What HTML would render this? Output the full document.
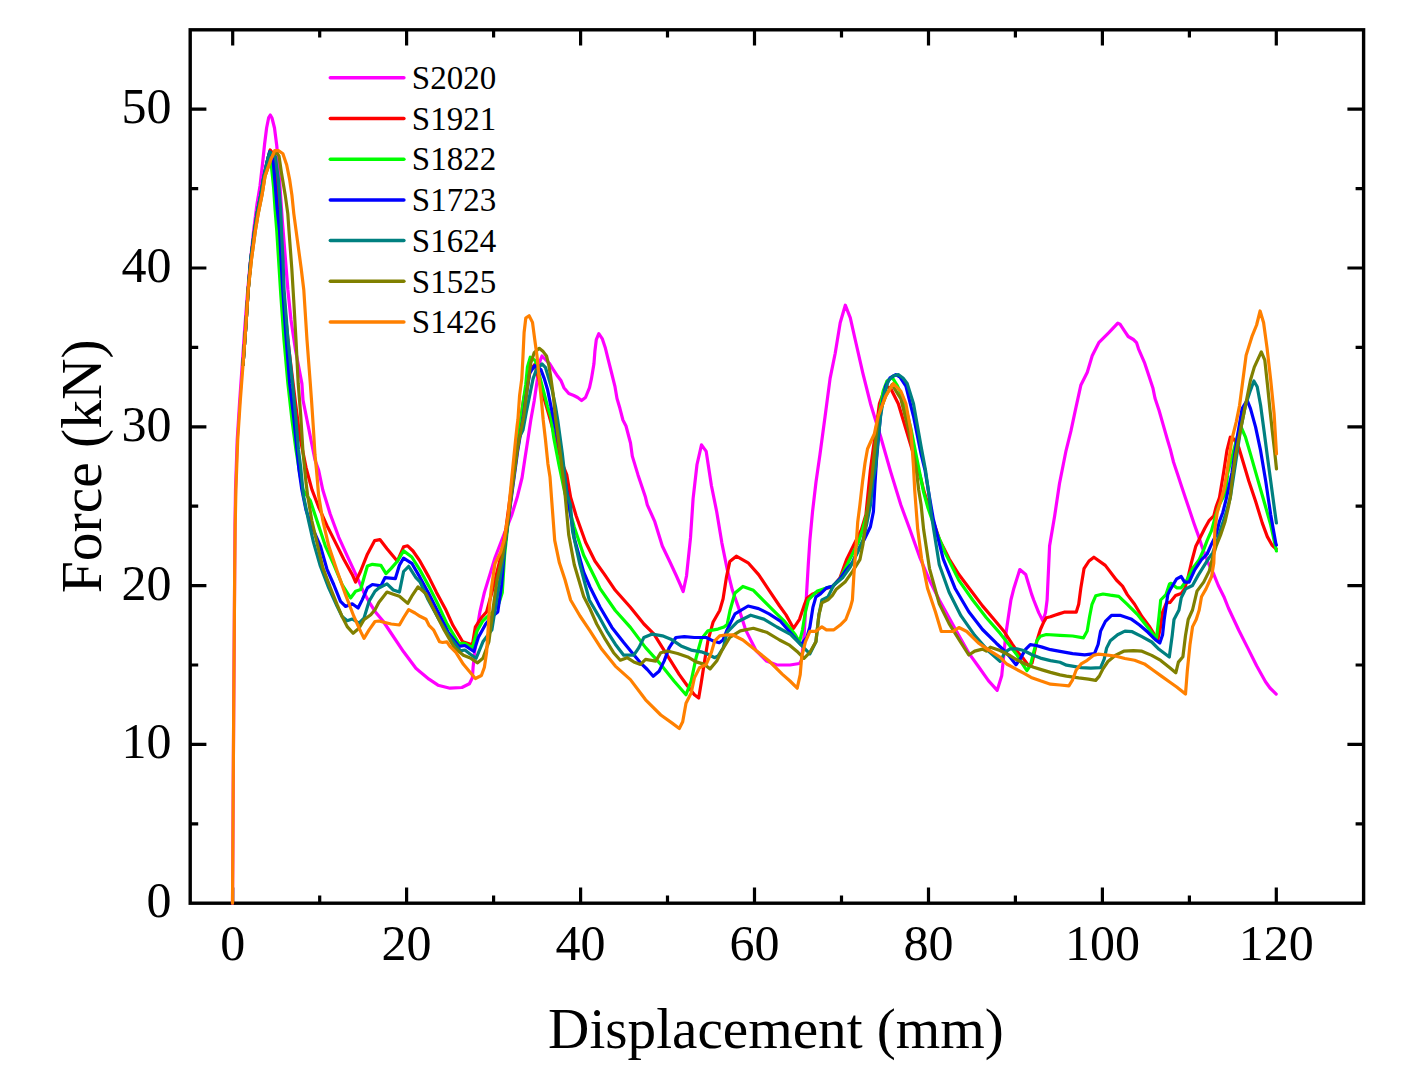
<!DOCTYPE html>
<html><head><meta charset="utf-8"><style>
html,body{margin:0;padding:0;background:#fff;}
svg{display:block;}
</style></head><body>
<svg width="1412" height="1069" viewBox="0 0 1412 1069">
<rect width="1412" height="1069" fill="#fff"/>
<rect x="190.2" y="29.8" width="1173.4" height="873.4" fill="none" stroke="#000" stroke-width="3.4"/>
<path d="M232.7 903.2V887.4M232.7 29.8V45.6M319.7 903.2V895.4M319.7 29.8V37.6M406.6 903.2V887.4M406.6 29.8V45.6M493.6 903.2V895.4M493.6 29.8V37.6M580.6 903.2V887.4M580.6 29.8V45.6M667.5 903.2V895.4M667.5 29.8V37.6M754.5 903.2V887.4M754.5 29.8V45.6M841.5 903.2V895.4M841.5 29.8V37.6M928.5 903.2V887.4M928.5 29.8V45.6M1015.4 903.2V895.4M1015.4 29.8V37.6M1102.4 903.2V887.4M1102.4 29.8V45.6M1189.4 903.2V895.4M1189.4 29.8V37.6M1276.3 903.2V887.4M1276.3 29.8V45.6M190.2 823.8H198.2M1363.6 823.8H1355.6M190.2 744.4H206.4M1363.6 744.4H1347.4M190.2 665.0H198.2M1363.6 665.0H1355.6M190.2 585.6H206.4M1363.6 585.6H1347.4M190.2 506.2H198.2M1363.6 506.2H1355.6M190.2 426.8H206.4M1363.6 426.8H1347.4M190.2 347.4H198.2M1363.6 347.4H1355.6M190.2 268.0H206.4M1363.6 268.0H1347.4M190.2 188.6H198.2M1363.6 188.6H1355.6M190.2 109.2H206.4M1363.6 109.2H1347.4" stroke="#000" stroke-width="3.2" fill="none"/>
<g font-family="&quot;Liberation Serif&quot;, serif" font-size="50" fill="#000"><text x="232.7" y="960" text-anchor="middle">0</text><text x="406.6" y="960" text-anchor="middle">20</text><text x="580.6" y="960" text-anchor="middle">40</text><text x="754.5" y="960" text-anchor="middle">60</text><text x="928.5" y="960" text-anchor="middle">80</text><text x="1102.4" y="960" text-anchor="middle">100</text><text x="1276.3" y="960" text-anchor="middle">120</text><text x="171.6" y="917.2" text-anchor="end">0</text><text x="171.6" y="758.4" text-anchor="end">10</text><text x="171.6" y="599.6" text-anchor="end">20</text><text x="171.6" y="440.8" text-anchor="end">30</text><text x="171.6" y="282.0" text-anchor="end">40</text><text x="171.6" y="123.2" text-anchor="end">50</text></g>
<polyline points="232.5,903.2 232.8,860.0 233.2,790.0 233.7,710.0 234.2,640.0 234.7,570.0 235.0,525.0 235.5,490.0 237.2,440.0 239.6,402.0 242.2,365.0 244.8,327.0 247.3,295.0 249.7,268.5 253.6,231.0 257.0,204.0 260.0,186.0 262.4,165.0 264.6,144.0 266.6,128.0 268.7,117.5 270.3,115.0 272.0,118.0 274.5,128.0 276.8,146.0 279.5,180.0 282.4,221.7 285.5,260.0 287.9,290.0 291.0,320.0 295.5,350.0 301.9,383.5 303.0,400.0 309.0,430.0 315.0,460.0 318.6,470.0 322.8,490.0 330.2,514.0 338.8,537.3 347.2,555.9 357.3,577.7 364.0,592.9 370.8,604.7 375.0,611.4 383.0,621.0 393.0,636.0 403.6,651.8 415.9,668.3 420.0,671.7 429.0,679.2 438.0,685.2 450.0,688.2 461.9,687.5 469.4,683.7 472.4,677.7 473.1,667.2 474.6,652.3 476.9,629.8 479.9,611.9 484.4,592.4 490.4,572.9 494.9,558.0 504.3,533.6 511.8,514.9 517.5,496.2 522.1,477.5 524.9,458.7 527.8,440.0 530.8,420.0 534.2,401.0 537.5,378.6 539.8,361.7 542.0,356.0 545.4,359.5 549.9,364.0 553.3,369.6 557.7,376.3 561.1,380.8 563.9,387.7 568.8,393.6 573.8,395.5 577.7,397.5 581.6,400.5 585.5,397.5 589.5,387.7 591.4,378.9 593.9,364.1 594.9,351.3 596.3,339.6 598.8,333.7 602.2,338.6 605.2,347.4 608.1,359.2 611.1,371.0 615.0,386.7 617.0,398.5 619.9,408.3 622.9,420.0 626.0,426.0 630.5,443.0 632.3,456.1 638.0,474.9 645.5,497.3 647.3,504.8 654.8,521.7 662.3,546.0 669.5,561.0 676.0,575.0 680.0,584.0 683.2,591.5 686.5,576.0 690.5,537.9 693.1,498.6 697.0,464.5 701.5,444.9 706.2,451.4 711.4,485.5 716.7,511.7 721.9,543.1 727.2,569.3 732.4,590.3 738.9,608.6 745.5,629.6 756.0,650.5 766.5,661.0 776.9,665.0 790.0,665.0 799.5,663.5 801.5,660.0 804.0,637.3 806.2,599.9 808.4,562.5 809.9,540.0 812.5,512.0 816.0,482.0 820.0,454.2 825.1,416.3 830.1,378.4 835.2,353.2 840.2,322.8 845.3,305.2 850.3,317.8 855.4,340.5 862.9,373.4 870.5,403.7 880.6,436.5 890.7,471.9 900.8,504.8 909.8,529.3 919.6,556.8 929.5,580.4 939.3,600.0 949.1,617.7 958.9,635.4 968.8,653.1 978.6,666.8 988.4,680.6 997.2,690.4 1001.7,675.8 1003.4,658.9 1005.9,633.7 1008.4,616.8 1010.9,600.0 1013.9,588.2 1019.8,569.6 1025.7,574.5 1031.6,594.1 1033.7,600.0 1038.7,612.6 1042.9,621.0 1045.5,612.6 1047.1,600.0 1049.6,545.8 1054.6,516.3 1059.5,483.5 1066.0,450.8 1070.9,431.2 1075.8,408.2 1080.8,385.3 1087.3,372.2 1092.2,355.8 1098.8,342.7 1108.6,332.9 1117.8,323.1 1120.0,324.1 1124.1,330.3 1128.2,336.5 1133.4,339.5 1136.5,342.6 1138.5,348.8 1144.7,363.2 1148.8,375.6 1152.9,387.9 1155.0,398.2 1159.1,410.5 1163.2,424.9 1167.3,439.3 1170.4,449.6 1173.5,462.0 1177.6,474.3 1181.7,486.7 1185.8,499.0 1190.0,511.4 1194.1,523.7 1198.1,534.9 1202.6,548.4 1208.2,563.0 1213.8,574.3 1218.3,585.5 1223.9,596.7 1228.4,608.0 1238.8,630.2 1247.7,647.9 1256.6,665.7 1265.5,681.7 1270.0,688.0 1276.2,694.1" fill="none" stroke="#ff00ff" stroke-width="3.2" stroke-linejoin="round" stroke-linecap="round"/><polyline points="243.0,365.0 245.8,327.0 248.2,290.0 250.8,259.0 254.5,231.0 257.3,212.0 260.8,194.9 263.6,178.0 266.6,164.0 268.6,156.0 270.2,150.0 272.5,153.0 274.5,165.0 276.5,187.0 278.3,210.0 280.6,253.6 282.5,280.0 285.0,310.0 289.0,350.0 295.4,402.3 300.0,437.4 306.0,467.4 312.0,489.8 318.6,507.0 327.0,525.6 335.4,542.4 343.8,559.2 352.2,574.4 355.6,582.0 360.7,571.0 367.4,554.2 374.7,540.6 379.9,539.6 387.0,548.8 392.2,555.0 397.4,561.2 403.6,546.8 407.7,545.8 413.0,551.0 420.0,561.2 429.0,577.4 436.5,592.4 445.4,608.9 452.9,625.3 462.7,641.8 472.4,644.8 475.4,626.8 481.4,617.8 486.6,611.9 492.0,592.0 497.0,572.0 502.0,552.0 506.0,528.0 510.0,498.0 515.0,460.0 519.5,428.0 523.5,400.0 527.0,384.0 530.5,370.0 534.7,364.5 538.7,378.6 543.2,395.4 548.8,414.5 552.0,426.0 557.0,445.0 562.3,463.7 566.8,474.9 570.6,497.3 576.2,516.0 585.6,542.2 594.9,561.0 604.3,574.1 615.3,590.3 630.4,607.2 643.9,624.0 654.0,634.1 662.4,647.6 670.9,661.1 679.3,674.6 687.7,686.3 694.4,694.8 698.7,698.1 701.2,683.0 704.6,661.1 707.9,640.9 713.0,622.3 719.7,610.5 723.1,598.7 726.5,576.8 729.8,561.5 736.3,556.2 748.1,562.8 758.6,574.6 769.1,590.3 779.6,606.0 786.0,614.9 793.5,628.3 799.5,619.3 804.0,605.9 806.9,598.4 812.9,593.9 818.9,591.5 826.0,588.5 833.0,586.5 839.9,578.0 846.5,559.7 853.9,544.7 861.4,529.7 865.9,514.8 870.4,469.9 873.4,447.5 876.0,430.0 879.4,403.7 885.7,386.0 890.7,388.5 898.3,403.7 905.9,429.0 913.5,454.2 921.1,479.5 923.6,490.0 931.4,515.5 939.3,539.1 949.1,558.8 958.9,574.5 970.7,590.2 982.5,605.9 994.3,619.7 1004.1,631.5 1012.6,644.6 1018.5,653.0 1023.6,658.9 1028.6,665.7 1032.0,663.1 1034.5,652.2 1037.0,640.4 1040.4,629.5 1043.8,621.9 1046.3,617.7 1050.5,616.8 1054.7,615.2 1058.9,613.9 1064.1,612.2 1076.2,612.2 1078.7,604.3 1080.8,588.3 1084.0,568.7 1089.0,561.0 1093.9,557.2 1105.3,565.4 1116.4,580.0 1122.5,586.1 1127.3,594.6 1134.6,604.3 1141.9,616.5 1149.2,626.2 1157.7,640.0 1160.2,628.7 1162.6,612.0 1166.3,603.0 1170.0,602.4 1175.6,595.6 1181.2,593.4 1184.6,588.9 1188.0,577.6 1191.3,563.0 1195.8,546.2 1200.3,537.2 1204.8,528.2 1209.3,520.3 1213.8,515.8 1216.1,506.9 1219.4,497.9 1223.6,472.6 1226.9,450.7 1230.3,437.2 1233.7,438.9 1238.7,447.3 1243.8,464.2 1248.8,481.0 1255.6,501.2 1262.3,523.1 1267.3,536.6 1272.0,545.0 1276.2,549.0" fill="none" stroke="#ff0000" stroke-width="3.2" stroke-linejoin="round" stroke-linecap="round"/><polyline points="243.0,365.0 245.8,327.0 248.2,290.0 250.8,259.0 254.5,231.0 257.3,212.0 260.8,194.9 263.6,178.0 266.6,164.0 268.6,156.0 270.3,153.0 271.3,164.9 273.6,187.4 275.1,209.9 276.8,231.0 278.6,260.0 280.8,295.0 284.0,340.0 287.9,383.5 292.0,420.0 296.0,450.0 300.0,475.0 303.0,490.0 310.2,500.3 316.9,520.5 325.3,545.8 333.7,564.3 342.1,584.5 350.6,598.0 355.6,591.2 360.7,589.5 364.0,577.7 367.4,566.0 372.4,564.3 380.9,565.3 386.0,573.6 391.2,568.4 397.4,561.2 403.6,550.9 411.8,557.0 420.0,570.0 429.0,586.4 438.0,604.4 447.0,623.8 458.9,643.3 464.9,643.3 472.4,647.8 476.9,631.3 482.9,620.8 487.0,617.0 493.0,612.0 499.0,603.0 502.3,592.4 504.6,555.0 510.0,505.0 515.0,462.0 520.0,425.0 523.5,400.0 525.8,384.2 527.4,367.3 530.3,357.2 535.3,360.6 538.7,373.0 543.2,389.8 547.6,406.6 551.0,417.8 553.7,437.4 559.0,465.0 565.0,493.6 574.3,527.3 583.7,555.3 594.9,577.8 600.1,588.6 615.3,610.5 630.4,627.4 645.6,647.6 660.8,664.4 674.2,681.3 686.0,694.8 691.1,681.3 696.1,657.7 701.2,639.2 707.9,630.8 718.0,629.1 724.0,627.0 727.2,624.4 730.0,610.5 735.0,592.9 742.9,586.4 753.4,590.3 763.8,600.8 774.3,611.3 784.8,621.7 789.0,626.8 795.3,634.8 799.5,641.8 802.5,629.8 805.4,611.9 808.4,599.9 812.9,595.4 817.4,590.9 826.4,587.9 832.4,586.4 839.9,578.9 846.0,567.0 853.0,553.0 858.5,542.0 862.5,530.0 866.5,515.0 870.5,495.0 873.5,470.0 876.8,441.6 880.0,410.0 883.2,391.1 887.0,381.0 892.0,377.2 897.0,385.0 903.4,398.6 911.0,429.0 916.0,454.2 923.6,492.1 928.0,508.0 935.4,529.3 945.2,552.9 958.9,580.4 972.7,600.0 986.4,617.7 1000.2,633.4 1010.9,647.1 1016.8,654.7 1021.9,663.1 1026.9,670.7 1030.3,665.7 1033.7,652.2 1037.0,640.4 1040.4,636.2 1046.3,634.5 1060.0,635.4 1072.6,636.0 1083.5,637.8 1087.2,631.1 1089.6,616.5 1092.0,604.3 1095.7,595.8 1103.0,594.0 1110.3,595.2 1118.8,596.4 1127.3,604.3 1137.1,614.1 1146.8,626.2 1156.5,638.4 1159.0,616.5 1160.7,600.0 1166.0,594.6 1169.5,584.0 1171.1,583.3 1176.7,587.8 1181.2,587.8 1186.9,579.9 1192.5,568.7 1199.2,559.7 1203.7,549.6 1207.1,540.6 1211.6,530.4 1214.9,518.1 1219.4,504.6 1225.1,493.4 1227.5,476.0 1226.9,476.0 1233.7,450.7 1240.4,425.5 1245.5,437.2 1250.5,454.1 1257.2,477.6 1264.0,501.2 1270.7,524.8 1276.4,551.0" fill="none" stroke="#00ff00" stroke-width="3.2" stroke-linejoin="round" stroke-linecap="round"/><polyline points="243.0,365.0 245.8,327.0 248.2,290.0 250.8,259.0 254.5,231.0 257.3,212.0 260.8,194.9 263.6,178.0 266.6,164.0 268.6,156.0 269.5,152.0 271.5,155.5 273.2,161.2 275.4,187.4 277.3,209.9 279.6,231.0 281.5,268.5 282.8,290.0 285.5,330.0 289.7,383.5 294.0,420.0 299.0,470.0 301.9,490.0 306.0,510.0 311.0,525.0 315.5,535.0 320.3,545.8 327.0,569.3 333.7,584.5 340.5,601.3 345.5,606.4 352.2,603.8 358.1,608.0 362.3,599.6 367.4,587.8 372.4,584.5 380.9,585.9 385.0,577.7 395.3,578.7 399.4,565.3 403.6,558.1 411.8,563.3 420.0,577.4 429.0,593.9 438.0,611.9 448.4,632.8 458.9,646.3 464.9,645.5 473.9,651.5 478.4,637.3 485.9,623.8 491.5,617.0 497.8,611.9 501.6,584.9 504.6,547.5 511.0,500.0 517.5,452.0 522.8,420.0 525.8,398.8 528.0,384.2 529.7,373.0 534.7,365.7 540.9,369.6 544.3,378.6 547.6,389.8 551.0,406.6 556.0,430.0 561.2,456.1 568.7,502.9 574.3,538.5 583.7,572.2 590.0,587.0 600.1,607.2 611.9,627.4 623.7,642.5 632.1,652.7 640.5,662.8 647.3,669.5 653.2,676.2 659.1,671.2 664.1,661.1 669.2,647.6 675.9,637.5 684.3,636.7 694.4,637.5 706.2,637.5 713.0,640.9 719.3,642.7 723.0,640.0 727.2,629.6 735.0,613.9 748.1,606.0 758.6,608.6 769.1,613.9 780.0,620.8 790.5,632.8 801.0,644.8 806.9,637.3 809.9,626.8 812.9,607.4 815.9,596.9 820.4,593.9 826.4,587.9 832.4,586.4 839.9,578.9 845.0,571.6 852.4,562.6 858.0,550.0 864.0,540.0 870.4,526.7 873.4,511.8 874.9,484.9 876.5,460.0 878.1,441.6 881.0,410.0 885.7,386.0 890.0,378.0 895.8,374.6 900.0,377.0 905.9,386.0 913.5,416.3 921.1,454.2 925.0,470.0 928.6,492.1 933.4,519.5 943.2,558.8 955.0,588.2 968.8,611.8 982.5,629.5 996.3,643.2 1004.2,650.5 1010.1,657.2 1016.0,664.8 1020.2,658.9 1025.3,649.7 1030.3,644.6 1036.2,645.5 1042.1,647.1 1050.5,649.7 1060.0,651.3 1072.6,653.6 1084.7,654.8 1094.5,653.6 1098.1,644.5 1100.6,631.1 1105.4,621.4 1111.5,615.3 1120.0,615.3 1131.0,618.9 1139.5,625.0 1148.0,632.3 1155.3,639.6 1159.8,643.0 1162.6,634.7 1164.2,619.5 1167.8,594.6 1170.0,590.0 1176.7,578.8 1181.2,576.5 1184.6,582.1 1189.1,582.1 1194.7,569.8 1201.5,559.7 1207.1,554.0 1211.6,543.9 1216.1,534.9 1219.4,521.5 1222.8,512.5 1226.2,499.0 1232.0,472.6 1237.0,438.9 1242.1,408.6 1247.1,400.2 1250.5,408.6 1255.6,427.1 1260.6,450.7 1265.7,481.0 1270.7,514.7 1275.8,543.3 1276.4,545.0" fill="none" stroke="#0000ff" stroke-width="3.2" stroke-linejoin="round" stroke-linecap="round"/><polyline points="243.0,365.0 245.8,327.0 248.2,290.0 250.8,259.0 254.5,231.0 257.3,212.0 260.8,194.9 263.6,178.0 266.6,164.0 268.6,156.0 270.0,152.0 273.0,154.5 275.4,156.7 278.4,180.0 280.7,209.9 281.5,231.0 283.0,260.0 284.1,290.0 288.0,340.0 292.5,383.5 296.0,420.0 298.5,450.0 300.7,467.4 303.4,495.3 308.5,520.5 313.5,542.4 320.3,566.0 328.7,587.8 337.1,606.4 342.1,616.5 347.2,620.7 352.2,619.0 359.0,623.2 364.0,618.1 369.1,601.3 375.0,591.2 378.8,588.0 387.0,583.9 393.3,590.0 399.4,592.1 403.6,571.5 408.7,566.3 415.9,577.7 420.0,581.9 427.5,598.4 438.0,617.8 449.9,637.3 460.4,650.8 464.9,650.0 470.0,654.0 476.1,658.3 482.9,641.8 491.9,629.8 497.8,592.4 503.8,555.0 508.0,520.0 513.0,480.0 518.0,440.0 523.0,430.0 526.3,412.2 529.7,395.4 533.1,378.6 536.4,369.6 542.0,364.0 545.4,367.3 548.8,378.6 552.1,389.8 555.5,406.6 557.7,420.0 562.3,453.5 566.8,493.6 570.5,504.9 572.5,531.0 579.9,564.7 589.3,600.0 598.4,615.6 606.8,630.8 615.3,644.2 623.7,655.2 633.8,655.2 638.9,647.6 643.9,637.5 652.3,634.1 662.4,635.8 670.9,639.2 681.0,645.9 691.1,650.1 701.2,651.8 707.9,654.3 714.7,657.7 718.0,656.0 723.2,647.9 727.2,632.2 737.6,621.7 750.7,615.2 763.8,619.1 776.9,627.0 790.5,634.3 801.0,644.8 809.9,653.8 815.9,641.8 818.9,614.9 821.9,599.9 827.9,596.9 833.9,584.9 842.9,577.4 850.4,566.9 857.8,552.0 863.0,540.0 866.5,525.0 870.5,505.0 873.0,480.0 875.6,466.9 878.0,440.0 880.6,416.3 884.0,395.0 888.2,381.0 893.0,376.0 898.3,374.6 903.0,378.0 907.2,383.5 913.5,403.7 921.1,446.6 925.5,470.0 928.6,492.1 931.4,515.0 939.3,564.7 949.1,592.2 960.9,615.7 974.7,635.4 988.4,651.1 1000.0,661.4 1005.0,652.2 1010.1,648.8 1016.8,648.8 1023.6,650.5 1032.0,654.7 1040.4,658.1 1050.5,660.6 1060.0,662.3 1066.5,665.2 1081.1,667.6 1090.8,668.2 1100.6,667.6 1104.2,659.1 1106.6,648.1 1110.3,640.8 1117.6,634.7 1124.9,631.1 1132.2,631.7 1141.9,636.6 1151.7,642.0 1159.0,649.3 1169.3,657.0 1172.2,635.5 1174.0,619.5 1179.0,610.0 1181.2,597.9 1185.7,588.9 1192.5,585.5 1198.1,575.4 1203.7,566.4 1209.3,557.4 1212.7,552.9 1217.2,540.6 1221.7,526.0 1226.2,512.5 1230.3,497.8 1235.4,464.2 1240.4,430.5 1245.5,405.3 1250.5,390.1 1253.9,381.0 1257.2,386.7 1260.6,405.3 1264.0,430.5 1267.3,455.8 1270.7,481.0 1274.1,506.3 1276.4,523.0" fill="none" stroke="#008080" stroke-width="3.2" stroke-linejoin="round" stroke-linecap="round"/><polyline points="243.0,365.0 245.8,327.0 248.2,290.0 251.5,259.0 255.3,231.0 258.2,213.6 262.0,194.9 265.0,176.2 270.2,161.2 271.0,158.0 274.0,154.0 277.0,152.8 279.0,156.0 281.4,172.4 285.2,194.9 287.8,213.6 289.0,231.0 291.8,268.5 293.7,300.0 296.0,340.0 298.2,383.5 300.7,415.0 303.0,452.4 306.0,482.3 307.6,495.3 311.8,520.5 316.9,542.4 322.8,567.6 330.4,587.8 337.1,604.7 342.1,616.5 347.2,626.6 353.1,633.3 359.0,628.2 364.0,619.8 370.8,614.8 375.0,609.7 378.8,602.4 387.0,592.1 393.3,594.2 399.4,596.2 407.7,603.4 411.8,596.2 418.0,586.9 426.0,593.9 435.0,611.9 444.0,629.8 454.4,647.8 463.4,655.3 470.9,658.3 477.6,662.8 482.9,658.3 488.9,641.8 493.1,608.5 496.9,580.4 502.5,556.1 506.2,533.6 510.0,505.5 513.7,477.5 517.5,449.4 519.8,436.0 523.5,417.8 526.3,395.4 528.6,378.6 530.8,362.9 534.2,352.7 539.2,348.3 543.2,351.6 546.5,356.0 548.8,365.1 551.0,378.6 553.3,395.4 555.5,417.8 559.4,446.8 565.0,493.6 568.7,534.8 574.3,564.7 583.7,596.5 590.0,608.9 596.7,624.0 605.2,639.2 613.6,652.7 620.3,660.2 627.1,657.7 633.8,661.9 640.5,664.4 645.6,659.4 655.7,661.1 660.8,652.7 667.5,651.0 677.6,653.5 687.7,656.9 696.1,661.9 704.6,664.4 710.1,668.9 716.7,661.0 721.9,650.5 729.8,637.4 740.3,630.9 753.4,628.3 766.5,632.2 779.6,640.0 789.0,644.8 798.0,652.3 804.0,658.3 809.9,652.3 815.9,641.8 818.9,614.9 821.9,602.9 827.9,599.9 832.4,595.4 836.0,589.6 845.0,582.1 852.4,571.6 859.9,559.7 862.9,544.7 865.9,522.3 868.9,499.8 871.9,477.4 874.9,447.5 878.1,416.3 885.7,396.1 892.0,384.7 900.8,398.6 908.4,429.0 916.0,466.9 918.7,490.0 921.1,504.8 923.6,529.3 929.5,568.6 939.3,603.9 949.1,623.6 958.9,639.3 968.8,655.0 974.7,651.1 982.5,649.1 986.4,651.1 990.4,647.2 1000.0,650.5 1008.4,654.7 1016.8,659.8 1025.3,664.0 1033.7,667.3 1042.1,669.9 1050.5,672.4 1060.0,674.9 1066.5,676.1 1078.7,677.9 1088.4,679.1 1095.7,680.4 1099.3,676.1 1103.0,668.8 1107.9,661.5 1115.2,655.4 1123.7,651.2 1133.4,650.6 1141.9,651.2 1151.7,655.4 1160.7,660.4 1169.5,667.5 1175.8,672.8 1178.4,662.1 1182.9,656.8 1185.5,635.5 1188.2,619.5 1192.5,610.0 1197.0,591.1 1203.7,582.1 1209.3,570.9 1212.7,557.4 1216.1,546.2 1220.6,534.9 1225.1,521.5 1228.4,506.9 1230.5,495.6 1232.0,481.0 1235.4,455.8 1240.4,430.5 1245.5,405.3 1250.5,380.0 1254.3,367.1 1261.3,351.9 1264.8,360.1 1267.5,385.0 1270.0,410.0 1272.4,432.0 1274.5,450.0 1276.5,469.0" fill="none" stroke="#808000" stroke-width="3.2" stroke-linejoin="round" stroke-linecap="round"/><polyline points="232.5,903.2 232.8,860.0 233.2,790.0 233.7,710.0 234.2,640.0 234.7,570.0 235.2,525.0 235.9,490.0 237.7,440.0 240.2,402.0 243.0,365.0 245.8,327.0 248.2,290.0 251.5,259.0 255.3,231.0 258.2,213.6 262.0,194.9 265.0,176.2 270.2,161.2 274.7,150.7 278.4,150.5 282.9,153.7 286.7,165.0 289.7,179.9 291.9,194.9 293.8,213.6 297.4,240.4 301.2,268.5 303.8,290.0 307.0,340.0 310.3,383.5 311.5,400.0 313.5,430.0 315.0,455.0 316.5,470.0 318.6,495.3 322.8,520.5 328.7,545.8 337.1,571.0 345.5,594.6 353.9,616.5 360.7,631.6 364.0,638.4 369.1,629.9 375.0,621.5 378.8,621.0 385.0,622.5 391.2,624.0 399.4,625.0 404.0,617.0 408.7,609.6 415.0,613.0 420.0,616.3 426.0,619.3 429.0,625.3 433.5,629.8 439.5,641.8 442.5,642.5 446.9,641.8 449.9,646.3 455.9,652.3 463.4,664.3 470.9,673.2 475.4,678.5 481.4,675.5 484.4,667.2 486.6,652.3 488.1,629.8 489.6,605.0 491.2,589.8 495.0,563.6 500.6,552.4 504.3,539.3 508.1,514.9 510.9,486.8 513.7,458.7 515.6,440.0 517.2,425.0 517.9,420.0 519.6,395.4 521.8,378.6 523.0,356.0 524.1,332.5 525.8,318.0 529.1,315.7 532.5,322.4 534.7,339.3 537.0,356.0 539.2,378.6 541.5,401.0 543.2,420.0 545.5,440.0 547.9,463.7 550.0,477.0 551.9,502.9 554.7,540.4 559.4,562.8 565.0,579.7 570.6,600.0 580.0,616.0 590.0,630.8 601.8,649.3 615.3,666.1 630.4,679.6 645.6,699.8 660.8,715.0 672.5,723.4 679.3,728.5 682.7,721.7 686.0,703.2 691.1,693.1 694.4,677.9 699.5,667.8 706.2,664.4 711.3,652.7 714.7,640.9 719.7,635.8 725.0,635.0 732.4,634.8 742.9,640.0 756.0,650.5 769.1,661.0 782.2,674.1 790.0,681.0 797.2,688.2 800.2,674.7 801.7,656.8 805.4,641.8 809.9,631.3 815.9,631.3 821.9,626.8 826.4,629.8 833.9,629.8 839.9,625.3 845.9,619.3 850.4,607.4 852.4,600.0 853.9,574.6 856.2,544.7 857.7,522.3 859.9,505.0 862.5,482.0 865.0,463.0 867.5,449.0 870.6,442.0 874.3,434.0 878.1,416.3 885.7,396.1 893.3,383.5 900.8,391.1 905.9,403.7 911.0,431.5 913.5,466.9 914.7,490.0 917.7,529.3 921.6,558.8 927.5,588.2 935.4,611.8 941.3,631.5 947.2,631.5 953.0,631.5 958.9,627.5 966.8,631.5 978.6,643.2 990.4,651.1 1000.0,657.2 1006.7,664.0 1014.3,668.2 1023.6,673.2 1031.1,677.4 1040.4,680.8 1050.5,684.2 1060.0,685.0 1068.9,685.8 1072.6,679.8 1076.2,670.0 1081.1,663.9 1087.2,660.3 1093.3,655.4 1098.1,654.2 1105.4,654.8 1115.2,656.0 1124.9,658.5 1134.6,660.3 1144.4,663.9 1152.9,670.0 1161.4,676.1 1170.0,682.2 1176.7,687.0 1185.5,694.1 1187.3,671.0 1190.0,644.4 1192.6,626.6 1196.2,619.5 1199.2,610.0 1201.5,596.7 1206.0,588.9 1211.6,576.5 1213.8,563.0 1214.4,546.2 1214.9,529.3 1217.2,512.5 1220.6,501.2 1223.9,490.0 1226.9,472.6 1232.0,438.9 1236.2,422.1 1239.6,405.3 1242.9,380.0 1246.1,355.4 1251.9,336.7 1256.6,325.0 1260.1,311.0 1263.6,322.7 1267.1,348.4 1270.7,380.0 1274.1,413.7 1276.5,454.0" fill="none" stroke="#ff8000" stroke-width="3.2" stroke-linejoin="round" stroke-linecap="round"/>
<text x="776" y="1048" text-anchor="middle" font-family="&quot;Liberation Serif&quot;, serif" font-size="57.2" fill="#000">Displacement (mm)</text>
<text transform="translate(100.6 466.3) rotate(-90)" text-anchor="middle" font-family="&quot;Liberation Serif&quot;, serif" font-size="57.5" fill="#000">Force (kN)</text>
<line x1="330.3" y1="77.8" x2="403.9" y2="77.8" stroke="#ff00ff" stroke-width="3.5" stroke-linecap="round"/><text x="411.8" y="89.0" font-family="&quot;Liberation Serif&quot;, serif" font-size="33" fill="#000">S2020</text><line x1="330.3" y1="118.5" x2="403.9" y2="118.5" stroke="#ff0000" stroke-width="3.5" stroke-linecap="round"/><text x="411.8" y="129.7" font-family="&quot;Liberation Serif&quot;, serif" font-size="33" fill="#000">S1921</text><line x1="330.3" y1="159.2" x2="403.9" y2="159.2" stroke="#00ff00" stroke-width="3.5" stroke-linecap="round"/><text x="411.8" y="170.4" font-family="&quot;Liberation Serif&quot;, serif" font-size="33" fill="#000">S1822</text><line x1="330.3" y1="199.9" x2="403.9" y2="199.9" stroke="#0000ff" stroke-width="3.5" stroke-linecap="round"/><text x="411.8" y="211.1" font-family="&quot;Liberation Serif&quot;, serif" font-size="33" fill="#000">S1723</text><line x1="330.3" y1="240.6" x2="403.9" y2="240.6" stroke="#008080" stroke-width="3.5" stroke-linecap="round"/><text x="411.8" y="251.8" font-family="&quot;Liberation Serif&quot;, serif" font-size="33" fill="#000">S1624</text><line x1="330.3" y1="281.3" x2="403.9" y2="281.3" stroke="#808000" stroke-width="3.5" stroke-linecap="round"/><text x="411.8" y="292.5" font-family="&quot;Liberation Serif&quot;, serif" font-size="33" fill="#000">S1525</text><line x1="330.3" y1="322.0" x2="403.9" y2="322.0" stroke="#ff8000" stroke-width="3.5" stroke-linecap="round"/><text x="411.8" y="333.2" font-family="&quot;Liberation Serif&quot;, serif" font-size="33" fill="#000">S1426</text>
</svg>
</body></html>
